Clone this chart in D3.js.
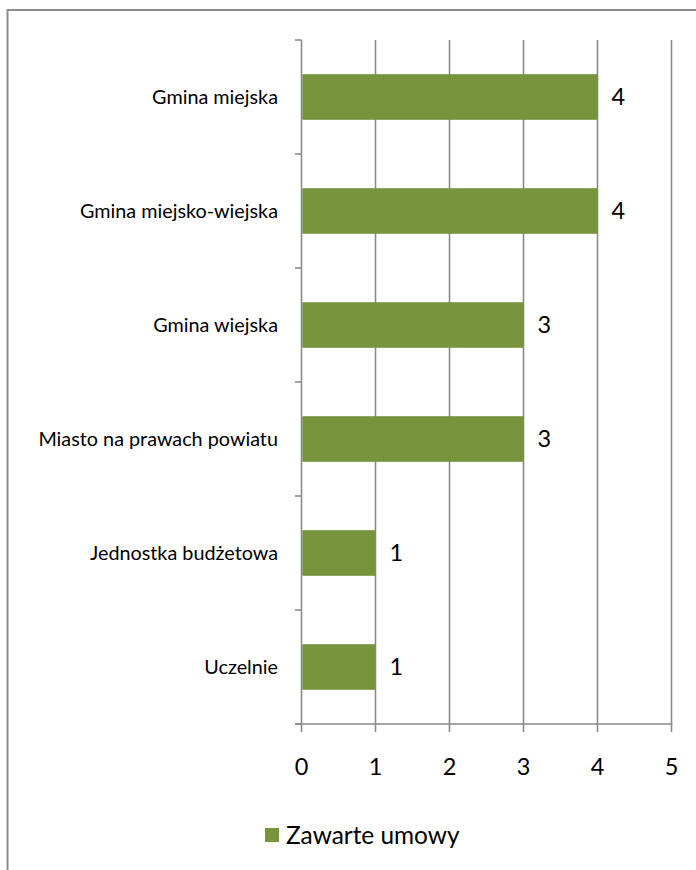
<!DOCTYPE html>
<html><head><meta charset="utf-8">
<script src="https://cdn.jsdelivr.net/npm/d3@7"></script>
<style>html,body{margin:0;padding:0;background:#fff;}svg{display:block;}</style>
</head><body>
<script>
const categories = ["Gmina miejska","Gmina miejsko-wiejska","Gmina wiejska","Miasto na prawach powiatu","Jednostka budżetowa","Uczelnie"];
const values = [4,4,3,3,1,1];
const xTicks = [0,1,2,3,4,5];
const seriesName = "Zawarte umowy";

const W=696,H=870;
const font="Lato, 'Open Sans', sans-serif";
const barColor="#77933C", gridColor="#8a8a8a";
const svg=d3.select("body").append("svg").attr("width",W).attr("height",H);

// outer frame
svg.append("rect").attr("x",7.5).attr("y",10).attr("width",W+20).attr("height",H+20)
  .attr("fill","none").attr("stroke","#8c8c8c").attr("stroke-width",2);

const x=d3.scaleLinear().domain([0,5]).range([301.5,671.5]);
const y=d3.scaleBand().domain(categories).range([40,724]).padding(0);

// gridlines
svg.append("g").selectAll("line").data(xTicks).join("line")
  .attr("x1",d=>x(d)).attr("x2",d=>x(d)).attr("y1",40).attr("y2",732)
  .attr("stroke",gridColor).attr("stroke-width",1.6);
// bottom axis line
svg.append("line").attr("x1",295).attr("x2",x(5)+0.8).attr("y1",724).attr("y2",724)
  .attr("stroke",gridColor).attr("stroke-width",1.6);
// y ticks at band boundaries
const bounds=categories.map(c=>y(c)).concat([724]);
svg.append("g").selectAll("line").data(bounds).join("line")
  .attr("x1",295).attr("x2",x(0)).attr("y1",d=>d).attr("y2",d=>d)
  .attr("stroke",gridColor).attr("stroke-width",1.6);

// bars
const bh=y.bandwidth()*0.4;
svg.append("g").selectAll("rect").data(categories).join("rect")
  .attr("x",x(0)+0.8).attr("y",d=>y(d)+y.bandwidth()/2-bh/2)
  .attr("width",(d,i)=>x(values[i])-x(0)-0.8).attr("height",bh)
  .attr("fill",barColor);

// value labels
svg.append("g").selectAll("text").data(categories).join("text")
  .attr("x",(d,i)=>x(values[i])+14).attr("y",d=>y(d)+y.bandwidth()/2)
  .attr("dy","0.35em").attr("font-family",font).attr("font-size",23.5).attr("fill","#000")
  .text((d,i)=>values[i]);

// category labels
svg.append("g").selectAll("text").data(categories).join("text")
  .attr("x",278).attr("y",d=>y(d)+y.bandwidth()/2)
  .attr("dy","0.35em").attr("text-anchor","end").attr("font-family",font).attr("font-size",19.8).attr("fill","#000")
  .text(d=>d);

// x tick labels
svg.append("g").selectAll("text").data(xTicks).join("text")
  .attr("x",d=>x(d)).attr("y",767).attr("dy","0.35em").attr("text-anchor","middle")
  .attr("font-family",font).attr("font-size",23.5).attr("fill","#000").text(d=>d);

// legend
svg.append("rect").attr("x",265).attr("y",828).attr("width",14).attr("height",14).attr("fill",barColor);
svg.append("text").attr("x",286).attr("y",835).attr("dy","0.35em").attr("font-family",font)
  .attr("font-size",24.4).attr("fill","#000").text(seriesName);
</script>
</body></html>
